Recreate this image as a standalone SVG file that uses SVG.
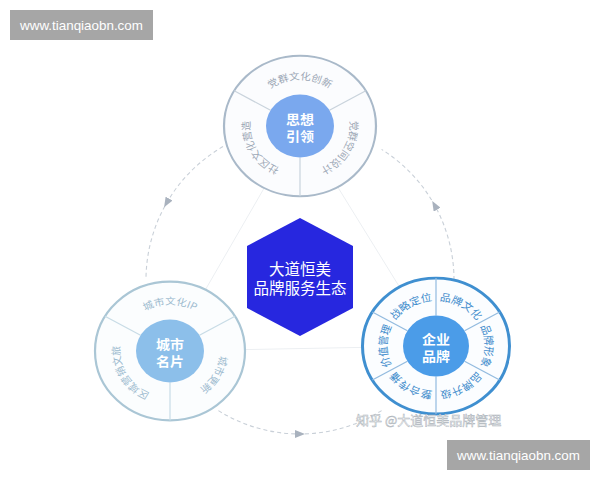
<svg xmlns="http://www.w3.org/2000/svg" width="600" height="480" viewBox="0 0 600 480">
<defs>
<style>
.cjk{font-family:"Noto Sans CJK SC","Noto Sans",sans-serif;}
.seg{font-size:10.5px;}
.segR{font-size:11px;fill:#3f8ccc;}
.inner{font-size:14px;font-weight:bold;fill:#ffffff;}
.url{font-family:"Liberation Sans",Arial,sans-serif;font-size:13.4px;fill:#ffffff;}
.flow{fill:none;stroke:#c9d0d8;stroke-width:1.1;stroke-dasharray:4 3;marker-mid:url(#arr);}
</style>
<marker id="arr" viewBox="0 0 10 8" refX="5" refY="4" markerWidth="10" markerHeight="8" markerUnits="userSpaceOnUse" orient="auto"><path d="M0,0 L10,4 L0,8 z" fill="#a9b2be"/></marker>
<path id="tT" d="M-40.96,-28.68 A50,50 0 0 1 40.96,-28.68"/>
<path id="tR" d="M45.32,-21.13 A50,50 0 0 1 4.36,49.81"/>
<path id="tL" d="M-4.36,49.81 A50,50 0 0 1 -45.32,-21.13"/>
<path id="r240" d="M-42.44,-24.5 A49,49 0 0 1 0,-49"/>
<path id="r300" d="M0,-49 A49,49 0 0 1 42.44,-24.5"/>
<path id="r0" d="M42.44,-24.5 A49,49 0 0 1 42.44,24.5"/>
<path id="r60" d="M42.44,24.5 A49,49 0 0 1 0,49"/>
<path id="r120" d="M0,49 A49,49 0 0 1 -42.44,24.5"/>
<path id="r180" d="M-42.44,24.5 A49,49 0 0 1 -42.44,-24.5"/>
</defs>
<rect width="600" height="480" fill="#ffffff"/>

<g id="background-triangle">
<polygon points="300,126 170,351 436,346" fill="none" stroke="#eceff2" stroke-width="1"/>
</g>

<g id="connectors">
<path class="flow" d="M223,146.6 A154,154 0 0 0 166.6,203 A154,154 0 0 0 146,278"/>
<path class="flow" d="M218.4,410.6 A154,154 0 0 0 300,434 A154,154 0 0 0 381.6,410.6"/>
<path class="flow" d="M454,280 A154,154 0 0 0 434.7,205.3 A154,154 0 0 0 381.6,149.4"/>
</g>

<g id="node-thought" transform="translate(300,126) scale(1,0.925)">
<circle r="76" fill="#fbfcfe" stroke="#a9b9c9" stroke-width="2.2"/>
<g stroke="#c9d3dc" stroke-width="1.2">
<line x1="0" y1="34" x2="0" y2="76"/>
<line x1="-29.44" y1="-17" x2="-65.82" y2="-38"/>
<line x1="29.44" y1="-17" x2="65.82" y2="-38"/>
</g>
<circle r="34" fill="#7aa8ee"/>
<text class="cjk inner" text-anchor="middle"><tspan x="0" y="-2">思想</tspan><tspan x="0" y="16.5">引领</tspan></text>
<g class="cjk seg" fill="#9ba7b5">
<text><textPath href="#tT" startOffset="50%" text-anchor="middle">党群文化创新</textPath></text>
<text><textPath href="#tR" startOffset="50%" text-anchor="middle">党群空间设计</textPath></text>
<text><textPath href="#tL" startOffset="50%" text-anchor="middle">社区文化营造</textPath></text>
</g>
</g>

<g id="node-city" transform="translate(170,351) scale(1,0.925)">
<circle r="75" fill="#fbfdfe" stroke="#aac6d5" stroke-width="2.2"/>
<g stroke="#c8dce6" stroke-width="1.2">
<line x1="0" y1="34" x2="0" y2="75"/>
<line x1="-29.44" y1="-17" x2="-64.95" y2="-37.5"/>
<line x1="29.44" y1="-17" x2="64.95" y2="-37.5"/>
</g>
<circle r="34" fill="#8cbfea"/>
<text class="cjk inner" text-anchor="middle"><tspan x="0" y="-2">城市</tspan><tspan x="0" y="16.5">名片</tspan></text>
<g class="cjk seg" fill="#9dbbcf">
<text><textPath href="#tT" startOffset="50%" text-anchor="middle">城市文化IP</textPath></text>
<text><textPath href="#tR" startOffset="50%" text-anchor="middle">城市更新</textPath></text>
<text><textPath href="#tL" startOffset="50%" text-anchor="middle">区域营销文旅</textPath></text>
</g>
</g>

<g id="node-brand" transform="translate(436,346) scale(1,0.925)">
<circle r="73.5" fill="#fbfdff" stroke="#3f8fd0" stroke-width="3"/>
<g stroke="#93bbdf" stroke-width="1.2">
<line x1="28.58" y1="16.5" x2="63.65" y2="36.75"/>
<line x1="0" y1="33" x2="0" y2="73.5"/>
<line x1="-28.58" y1="16.5" x2="-63.65" y2="36.75"/>
<line x1="-28.58" y1="-16.5" x2="-63.65" y2="-36.75"/>
<line x1="0" y1="-33" x2="0" y2="-73.5"/>
<line x1="28.58" y1="-16.5" x2="63.65" y2="-36.75"/>
</g>
<circle r="33" fill="#4b9ce8"/>
<text class="cjk inner" text-anchor="middle"><tspan x="0" y="-2">企业</tspan><tspan x="0" y="16.5">品牌</tspan></text>
<g class="cjk segR">
<text><textPath href="#r240" startOffset="50%" text-anchor="middle">战略定位</textPath></text>
<text><textPath href="#r300" startOffset="50%" text-anchor="middle">品牌文化</textPath></text>
<text><textPath href="#r0" startOffset="50%" text-anchor="middle">品牌形象</textPath></text>
<text><textPath href="#r60" startOffset="50%" text-anchor="middle">品牌升级</textPath></text>
<text><textPath href="#r120" startOffset="50%" text-anchor="middle">整合传播</textPath></text>
<text><textPath href="#r180" startOffset="50%" text-anchor="middle">价值管理</textPath></text>
</g>
</g>

<g id="node-center">
<polygon points="300,218 353,246 353,308 300,336 247,308 247,246" fill="#2727df"/>
<text class="cjk" font-size="15.5" fill="#ffffff" text-anchor="middle"><tspan x="300" y="274.5">大道恒美</tspan><tspan x="300" y="294">品牌服务生态</tspan></text>
</g>

<g id="watermark">
<text class="cjk" x="356" y="425" font-size="13" fill="#ffffff" stroke="#aab1b8" stroke-width="0.5">知乎 @大道恒美品牌管理</text>
</g>

<g id="url-top">
<rect x="10" y="10" width="143" height="30" fill="#a6a6a6"/>
<text class="url" x="81.5" y="30" text-anchor="middle">www.tianqiaobn.com</text>
</g>
<g id="url-bottom">
<rect x="447" y="440" width="143" height="30" fill="#a6a6a6"/>
<text class="url" x="518.5" y="460" text-anchor="middle">www.tianqiaobn.com</text>
</g>
</svg>
